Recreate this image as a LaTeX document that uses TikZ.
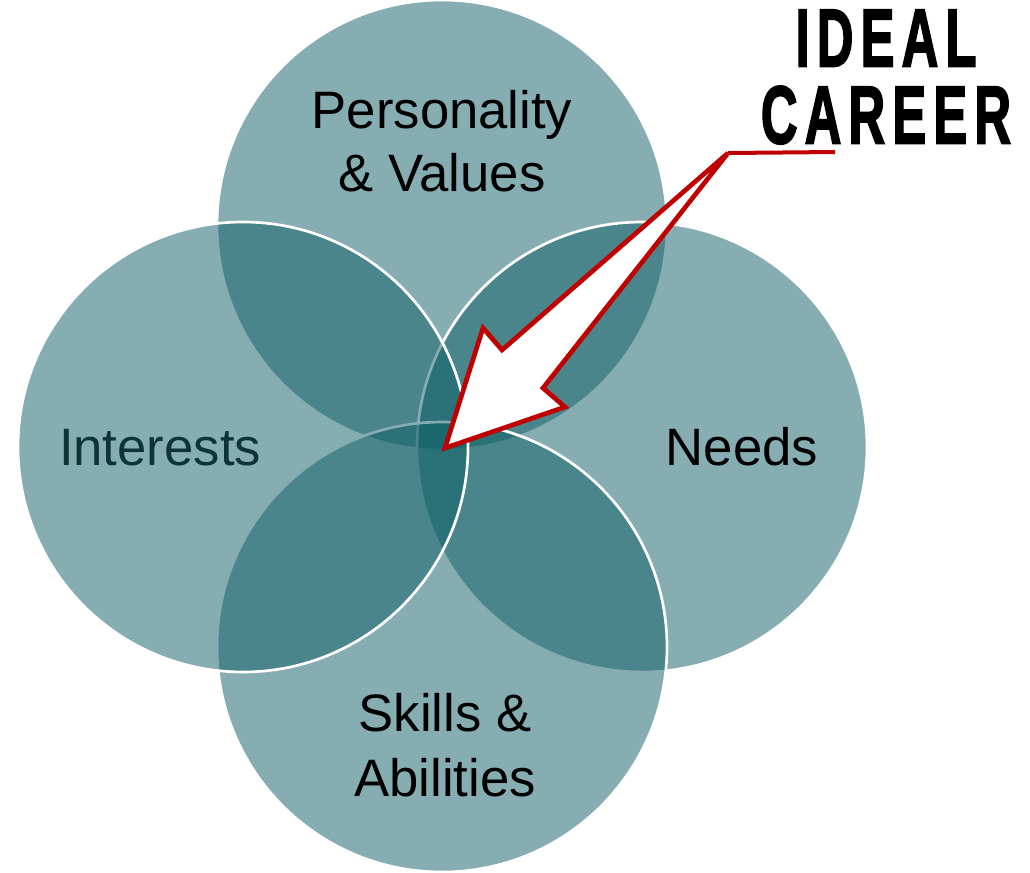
\documentclass[tikz,border=0pt]{standalone}
\usepackage{fontspec}
\setmainfont{Liberation Sans}
\newfontfamily\titlefont{Liberation Sans}[LetterSpace=14, FakeBold=2.5]
\definecolor{venn}{RGB}{13,93,101}
\definecolor{arrowred}{RGB}{192,0,0}
\definecolor{darkteal}{RGB}{14,52,56}
\tikzset{
  area/.style={circle, minimum size=337.5pt, inner sep=0pt, fill=venn, fill opacity=0.5, draw=white, line width=2pt},
  areatext/.style={font=\fontsize{39.5}{47}\selectfont, align=center, inner sep=0pt},
  bigarrow/.style={draw=arrowred, fill=white, line width=3.5pt, line join=miter}
}
\begin{document}
\begin{tikzpicture}[x=0.75pt, y=-0.75pt]
\useasboundingbox (0,0) rectangle (1030,872);
% the four circles
\node[area] (values) at (442,225) {};
\node[area] (needs) at (642,447) {};
\node[area] (skills) at (442,647) {};
\node[area] (interests) at (243,447) {};
% their labels
\node[areatext] (valuestext) at (442,141) {Personality\\\& Values};
\node[areatext, anchor=base, text=darkteal] (intereststext) at (160,465) {Interests};
\node[areatext, anchor=base] (needstext) at (742,465) {Needs};
\node[areatext, font=\fontsize{39.5}{48.75}\selectfont] (skillstext) at (445,745) {Skills \&\\Abilities};
% title and pointer
\node[font=\titlefont\bfseries\fontsize{61.5}{57.75}\selectfont, xscale=0.62, align=center, inner sep=0pt] (title) at (886,77) {IDEAL\\CAREER};
\coordinate (tail) at (728,153);
\coordinate (tip) at (445,448);
\coordinate (lineend) at (835,152);
\draw[bigarrow] (tail) -- (502,350) -- (483,328) -- (tip) -- (565,407) -- (543,388) -- cycle;
\draw[arrowred, line width=3pt] (tail) -- (lineend);
\end{tikzpicture}
\end{document}
